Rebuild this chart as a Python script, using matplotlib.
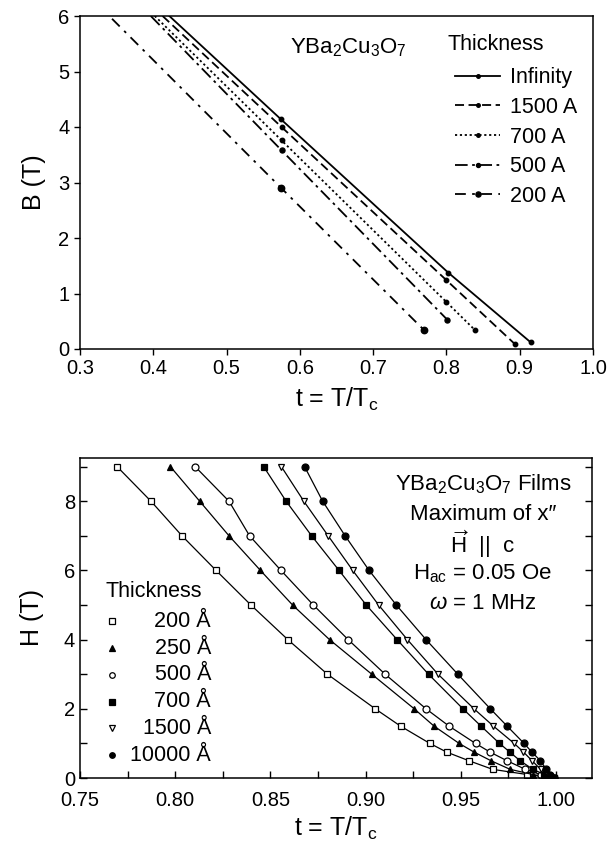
import numpy as np
import matplotlib
matplotlib.use("Agg")
import matplotlib.pyplot as plt
from matplotlib.lines import Line2D

plt.rcParams['font.family'] = ['Liberation Sans', 'DejaVu Sans']
plt.rcParams['mathtext.fontset'] = 'custom'
plt.rcParams['mathtext.rm'] = 'Liberation Sans'
plt.rcParams['mathtext.it'] = 'Liberation Sans:italic'
plt.rcParams['mathtext.bf'] = 'Liberation Sans:bold'

# ---- top panel: B(T) vs t for several film thicknesses ----
top_labels = ["Infinity", "1500 A", "700 A", "500 A", "200 A"]
top_t = [
    [0.4219, 0.5737, 0.8027, 0.915],
    [0.4127, 0.575, 0.800, 0.8933],
    [0.402, 0.575, 0.800, 0.8395],
    [0.3966, 0.575, 0.8013],
    [0.3437, 0.5746, 0.770],
]
top_B = [
    [6.0, 4.145, 1.373, 0.12],
    [6.0, 4.0, 1.24, 0.09],
    [6.0, 3.76, 0.846, 0.334],
    [6.0, 3.58, 0.526],
    [5.95, 2.90, 0.334],
]
top_styles = ['-', (0, (5, 2.5)), (0, (1.2, 1.5)), (0, (7, 2.5, 1.5, 2.5)), (0, (6, 3.5, 1.5, 3.5))]
top_ms = [3.2, 3.2, 3.2, 3.6, 4.6]

# ---- bottom panel: H(T) at maximum of chi'' ----
bot_labels = ["200 Å", "250 Å", "500 Å", "700 Å", "1500 Å", "10000 Å"]
H_levels = [9, 8, 7, 6, 5, 4, 3, 2, 1.5, 1, 0.75, 0.5, 0.25, 0.1, 0.0]
bot_t = [
    [0.7695, 0.7873, 0.8036, 0.8215, 0.8398, 0.8592, 0.880, 0.9051, 0.9184, 0.9338, 0.9426, 0.9543, 0.9668, 0.985, 0.999],
    [0.7975, 0.8129, 0.8283, 0.8448, 0.8617, 0.8811, 0.9033, 0.9256, 0.936, 0.9492, 0.957, 0.9659, 0.976, 0.988, 0.999],
    [0.8105, 0.8283, 0.8391, 0.8556, 0.8726, 0.8909, 0.9103, 0.9318, 0.9439, 0.9578, 0.9654, 0.9743, 0.984, 0.992, 0.999],
    [0.8465, 0.8583, 0.8717, 0.8861, 0.9004, 0.9166, 0.9331, 0.9512, 0.9607, 0.9704, 0.9758, 0.9812, 0.988, 0.994, 0.999],
    [0.8558, 0.8676, 0.8804, 0.8933, 0.9069, 0.922, 0.9381, 0.957, 0.9672, 0.9781, 0.983, 0.9875, 0.992, 0.996, 0.999],
    [0.868, 0.8775, 0.8893, 0.9019, 0.9162, 0.9318, 0.9485, 0.9656, 0.9744, 0.9833, 0.9874, 0.9919, 0.995, 0.997, 0.999],
]
bot_markers = [
    dict(marker='s', mfc='white', mec='black'),
    dict(marker='^', mfc='black', mec='black'),
    dict(marker='o', mfc='white', mec='black'),
    dict(marker='s', mfc='black', mec='black'),
    dict(marker='v', mfc='white', mec='black'),
    dict(marker='o', mfc='black', mec='black'),
]

fig = plt.figure(figsize=(6.10, 8.44), dpi=100)
ax1 = fig.add_axes([80 / 610, 1 - 349 / 844, 513 / 610, 333 / 844])
ax2 = fig.add_axes([80 / 610, 1 - 778 / 844, 512 / 610, 320 / 844])

# top
handles = []
for t, B, ls, ms, lab in zip(top_t, top_B, top_styles, top_ms, top_labels):
    ax1.plot(t, B, color='black', lw=1.3, ls=ls)
    ax1.plot(t[1:], B[1:], ls='none', marker='o', ms=ms, color='black')
    handles.append(Line2D([], [], color='black', lw=1.3, ls=ls, marker='o', ms=ms * 0.8))
ax1.set_xlim(0.3, 1.0)
ax1.set_ylim(0, 6)
ax1.set_xticks(np.arange(0.3, 1.01, 0.1))
ax1.set_xticklabels([f"{v:.1f}" for v in np.arange(0.3, 1.01, 0.1)])
ax1.set_yticks(range(0, 7))
ax1.tick_params(direction='out', length=4, width=1, labelsize=14.5, top=False, right=False)
ax1.set_xlabel(r"t = T/T$_\mathrm{c}$", fontsize=18, labelpad=5)
ax1.set_ylabel("B (T)", fontsize=18, labelpad=9)
ax1.text(0.41, 0.905, r"YBa$_2$Cu$_3$O$_7$", transform=ax1.transAxes, fontsize=16,
         ha='left', va='center')
ax1.text(0.717, 0.913, "Thickness", transform=ax1.transAxes, fontsize=15.5,
         ha='left', va='center')
leg = ax1.legend(handles, top_labels, loc='upper left',
                 bbox_to_anchor=(0.71, 0.878), frameon=False, fontsize=15.5,
                 handlelength=2.1, handletextpad=0.45,
                 labelspacing=0.4, numpoints=1, borderpad=0)

# bottom
for t, mk in zip(bot_t, bot_markers):
    ax2.plot(t, H_levels, color='black', lw=0.9, ms=5, mew=0.9, **mk)
ax2.set_xlim(0.75, 1.019)
ax2.set_ylim(0, 9.25)
ax2.set_xticks([0.75, 0.80, 0.85, 0.90, 0.95, 1.00])
ax2.set_xticks(np.arange(0.775, 1.0, 0.05), minor=True)
ax2.set_yticks([0, 2, 4, 6, 8])
ax2.set_yticks([1, 3, 5, 7, 9], minor=True)
ax2.tick_params(which='both', direction='in', length=5, width=1, labelsize=14.5,
                top=False, right=True)
ax2.tick_params(axis='x', pad=9)
ax2.set_xlabel(r"t = T/T$_\mathrm{c}$", fontsize=18, labelpad=4)
ax2.set_ylabel("H (T)", fontsize=18, labelpad=14)

notes = [r"YBa$_2$Cu$_3$O$_7$ Films", "Maximum of x\u2033",
         r"$\overrightarrow{\mathrm{H}}$  ||  c", r"H$_\mathrm{ac}$ = 0.05 Oe",
         r"$\omega$ = 1 MHz"]
for i, s in enumerate(notes):
    ax2.text(0.787, 0.918 - i * 0.0935, s, transform=ax2.transAxes, fontsize=16,
             ha='center', va='center')

ax2.text(0.05, 0.583, "Thickness", transform=ax2.transAxes, fontsize=15.5,
         ha='left', va='center')
for i, (lab, mk) in enumerate(zip(bot_labels, bot_markers)):
    y = 0.49 - i * 0.0838
    ax2.plot([0.062], [y], transform=ax2.transAxes, ls='none', ms=4, mew=0.9, **mk)
    ax2.text(0.256, y, lab, transform=ax2.transAxes, fontsize=15.5, ha='right', va='center')

for ax in (ax1, ax2):
    for sp in ax.spines.values():
        sp.set_linewidth(1.1)

fig.savefig("out.png", dpi=100)
